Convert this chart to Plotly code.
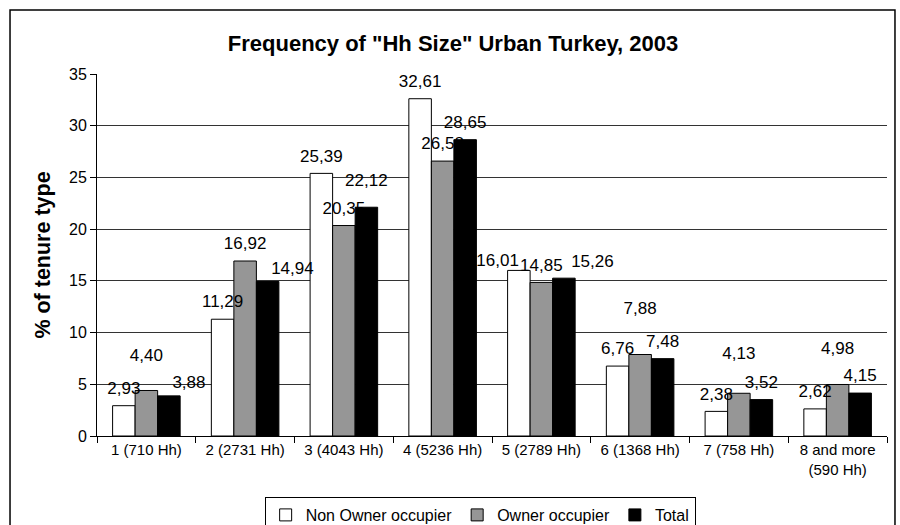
import plotly.graph_objects as go

# Household size categories (with number of households)
categories = ["1 (710 Hh)", "2 (2731 Hh)", "3 (4043 Hh)", "4 (5236 Hh)",
              "5 (2789 Hh)", "6 (1368 Hh)", "7 (758 Hh)", "8 and more<br>(590 Hh)"]

# % of tenure type
non_owner = [2.93, 11.29, 25.39, 32.61, 16.01, 6.76, 2.38, 2.62]
owner = [4.40, 16.92, 20.35, 26.58, 14.85, 7.88, 4.13, 4.98]
total = [3.88, 14.94, 22.12, 28.65, 15.26, 7.48, 3.52, 4.15]

font = "Arial, Liberation Sans, sans-serif"

# label placement like the Excel original (invisible marker size pushes text up)
non_owner_lbl_pos = ["top center"] * 4 + ["top left"] + ["top center"] * 3
non_owner_lbl_pad = [10.5, 10.5, 10.5, 10.5, 0, 10.5, 10.5, 10.5]
owner_lbl_pos = ["top center"] * 8
owner_lbl_pad = [39, 10.5, 10.5, 10.5, 10.5, 57, 46, 41]
total_lbl_pos = ["top right", "top right", "top center", "top center",
                 "top right", "top center", "top center", "top center"]
total_lbl_pad = [4, 4, 25, 10.5, 10, 10.5, 10.5, 10.5]

series = [
    ("Non Owner occupier", non_owner, "white", non_owner_lbl_pos, non_owner_lbl_pad),
    ("Owner occupier", owner, "#969696", owner_lbl_pos, owner_lbl_pad),
    ("Total", total, "black", total_lbl_pos, total_lbl_pad),
]

fig = go.Figure()
for name, values, color, pos, pad in series:
    fig.add_trace(go.Bar(
        x=categories, y=values, name=name, offsetgroup=name,
        marker=dict(color=color, line=dict(color="black", width=1)),
        hoverinfo="skip",
    ))
for name, values, color, pos, pad in series:
    fig.add_trace(go.Scatter(
        x=categories, y=values, offsetgroup=name, showlegend=False,
        mode="markers+text", marker=dict(size=pad, opacity=0),
        text=[f"{v:.2f}".replace(".", ",") for v in values],
        textposition=pos, cliponaxis=False, hoverinfo="skip",
        textfont=dict(family=font, size=17, color="black"),
    ))

# Outer chart frame
fig.add_shape(type="rect", xref="paper", yref="paper",
              x0=-0.1101, x1=1.0101, y0=-0.4, y1=1.1768,
              line=dict(color="black", width=1.5), layer="above")

fig.update_layout(
    width=900, height=525,
    margin=dict(l=97, r=13, t=74, b=89),
    paper_bgcolor="white", plot_bgcolor="white",
    barmode="group", bargap=0.316, bargroupgap=0,
    scattermode="group", scattergap=0.316,
    font=dict(family=font, color="black"),
    title=dict(text='Frequency of "Hh Size" Urban Turkey, 2003',
               x=453 / 900, xanchor="center", y=1 - 43 / 525, yanchor="middle",
               font=dict(size=22, family=font, color="black", weight="bold")),
    showlegend=True,
    legend=dict(orientation="h", x=0.485, xanchor="center",
                yref="container", y=1 - 497 / 525, yanchor="top",
                bordercolor="black", borderwidth=1, bgcolor="white",
                font=dict(size=16, family=font), itemwidth=30),
)

fig.update_xaxes(
    showline=True, linecolor="black", linewidth=1,
    ticks="outside", tickson="boundaries", ticklen=6, tickcolor="black",
    tickfont=dict(size=15, family=font), showgrid=False,
)
fig.update_yaxes(
    range=[0, 35], dtick=5,
    showline=True, linecolor="black", linewidth=1,
    ticks="outside", ticklen=6, tickcolor="black",
    tickfont=dict(size=16, family=font),
    showgrid=True, gridcolor="#333333", gridwidth=1,
    zeroline=False,
    title=dict(text="% of tenure type", standoff=12,
               font=dict(size=21.5, family=font, weight="bold")),
)

# drop the page's default body margin so the 900x525 figure fills the window
fig.write_html("out.html", config={"displayModeBar": False},
               post_script="document.body.style.margin = '0';")
